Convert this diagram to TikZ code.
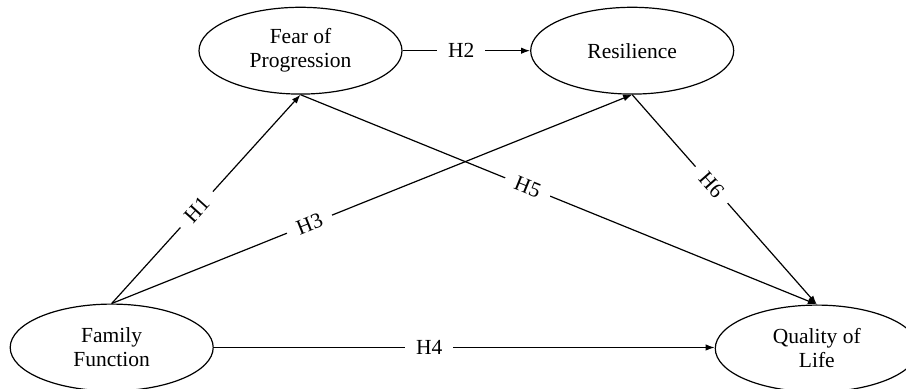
\documentclass[tikz,border=0pt]{standalone}
\usepackage{fontspec}
\setmainfont{Liberation Serif}
\usetikzlibrary{shapes.geometric,arrows.meta}
\begin{document}
\begin{tikzpicture}[x=0.5pt,y=-0.5pt,
  latent/.style={draw, ellipse, line width=0.6pt, minimum width=101.5pt, minimum height=43.4pt, inner sep=0pt, align=center, font=\fontsize{10.75}{12}\selectfont},
  hyp/.style={line width=0.6pt, -{Latex[length=4.5pt,width=3.2pt]}},
  hlabel/.style={fill=white, inner xsep=5.5pt, inner ysep=1pt, font=\fontsize{10.75}{12}\selectfont, sloped}
]
\useasboundingbox (0,0) rectangle (906,389);
\node[latent] (FoP) at (300.5,50.7) {Fear of\\Progression};
\node[latent] (Res) at (632.2,50.7) {Resilience};
\node[latent] (FF)  at (111.7,347.5) {Family\\Function};
\node[latent] (QoL) at (816.8,348.5) {Quality of\\Life};

\draw[hyp] (FoP.east) -- node[hlabel,pos=0.46]{H2} (Res.west);
\draw[hyp] (FF.north) -- node[hlabel,pos=0.45]{H1} (FoP.south);
\draw[hyp] (FF.north) -- node[hlabel,pos=0.38]{H3} (Res.south);
\draw[hyp] (FF.east) -- node[hlabel,pos=0.43]{H4} (FF.east -| QoL.west);
\draw[hyp] (FoP.south) -- node[hlabel,pos=0.44]{H5} (QoL.north);
\draw[hyp] (Res.south) -- node[hlabel,pos=0.43]{H6} (QoL.north);
\end{tikzpicture}
\end{document}
